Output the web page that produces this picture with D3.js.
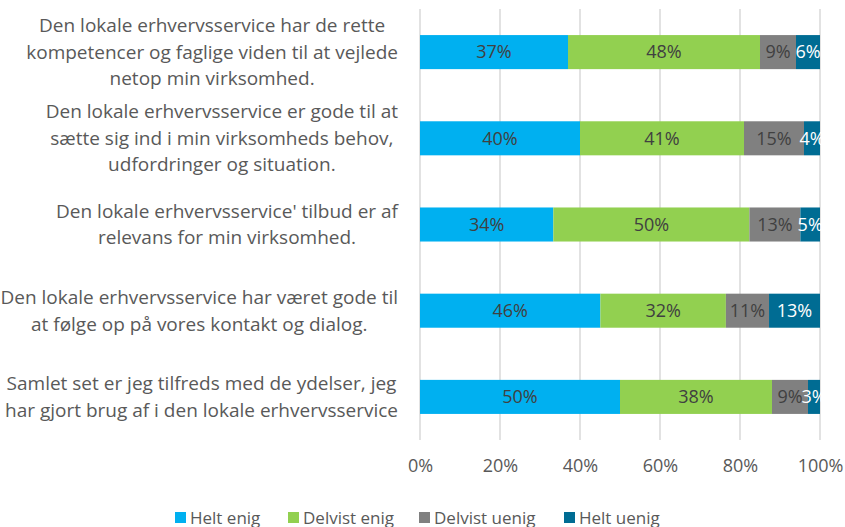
<!DOCTYPE html>
<html>
<head>
<meta charset="utf-8">
<script src="https://cdn.jsdelivr.net/npm/d3@7"></script>
<style>
  body { margin: 0; background: #fff; }
  text { font-family: "Open Sans", sans-serif; }
</style>
</head>
<body>
<svg id="chart" width="845" height="527"></svg>
<script>
// categories (top to bottom), each wrapped like the original
var categories = [
  ["Den lokale erhvervsservice har de rette", "kompetencer og faglige viden til at vejlede", "netop min virksomhed."],
  ["Den lokale erhvervsservice er gode til at", "sætte sig ind i min virksomheds behov,", "udfordringer og situation."],
  ["Den lokale erhvervsservice' tilbud er af", "relevans for min virksomhed."],
  ["Den lokale erhvervsservice har været gode til", "at følge op på vores kontakt og dialog."],
  ["Samlet set er jeg tilfreds med de ydelser, jeg", "har gjort brug af i den lokale erhvervsservice"]
];

var seriesNames = ["Helt enig", "Delvist enig", "Delvist uenig", "Helt uenig"];
var seriesColors = ["#00b0f0", "#92d050", "#808080", "#006c93"];
var labelColors = ["#404040", "#404040", "#404040", "#ffffff"];

// percentages per category, same order as seriesNames
var heltEnig     = [37, 40, 34, 46, 50];
var delvistEnig  = [48, 41, 50, 32, 38];
var delvistUenig = [9, 15, 13, 11, 9];
var heltUenig    = [6, 4, 5, 13, 3];

var tickValues = [0, 0.2, 0.4, 0.6, 0.8, 1];

var rows = categories.map(function(c, i) {
  return {
    idx: i,
    "Helt enig": heltEnig[i],
    "Delvist enig": delvistEnig[i],
    "Delvist uenig": delvistUenig[i],
    "Helt uenig": heltUenig[i]
  };
});

var svg = d3.select("#chart");
var plotL = 420, plotR = 820, plotT = 9, plotB = 440;

var x = d3.scaleLinear().domain([0, 1]).range([plotL, plotR]);
var y = d3.scaleBand().domain(d3.range(categories.length)).range([plotT, plotB]).paddingInner(0.605).paddingOuter(0.3025);
var color = d3.scaleOrdinal().domain(seriesNames).range(seriesColors);

// 100% stacked, like the excel chart
var stacked = d3.stack().keys(seriesNames).offset(d3.stackOffsetExpand)(rows);

// gridlines
svg.append("g")
  .selectAll("line")
  .data(tickValues)
  .enter()
  .append("line")
  .attr("x1", d => x(d)).attr("x2", d => x(d))
  .attr("y1", plotT).attr("y2", plotB)
  .attr("stroke", "#d9d9d9")
  .attr("stroke-width", 1.5);

// x axis labels
var xAxis = d3.axisBottom(x).tickValues(tickValues).tickFormat(d3.format(".0%")).tickSize(0).tickPadding(19);
var ax = svg.append("g").attr("transform", "translate(0," + plotB + ")").call(xAxis);
ax.select(".domain").remove();
ax.selectAll("text")
  .attr("fill", "#595959")
  .style("font-size", "18px")
  .style("font-family", "'Open Sans', sans-serif");

// bars
var layers = svg.append("g")
  .selectAll("g")
  .data(stacked)
  .enter()
  .append("g")
  .attr("fill", d => color(d.key));

layers.selectAll("rect")
  .data(d => d)
  .enter()
  .append("rect")
  .attr("x", d => x(d[0]))
  .attr("width", d => x(d[1]) - x(d[0]))
  .attr("y", d => y(d.data.idx))
  .attr("height", y.bandwidth());

// bar labels
stacked.forEach(function(s, si) {
  svg.append("g")
    .selectAll("text")
    .data(s)
    .enter()
    .append("text")
    .attr("x", d => (x(d[0]) + x(d[1])) / 2)
    .attr("y", d => y(d.data.idx) + y.bandwidth() / 2)
    .attr("dy", "0.35em")
    .attr("text-anchor", "middle")
    .attr("fill", labelColors[si])
    .style("font-size", "18px")
    .text(d => d.data[s.key] + "%");
});

// category labels: lines centred within block, block right aligned
var lineH = 26.5;
categories.forEach(function(lines, i) {
  var g = svg.append("g");
  var cy = y(i) + y.bandwidth() / 2;
  var t = g.selectAll("text")
    .data(lines)
    .enter()
    .append("text")
    .attr("text-anchor", "middle")
    .attr("fill", "#595959")
    .style("font-size", "19px")
    .attr("y", (d, j) => cy + (j - (lines.length - 1) / 2) * lineH)
    .attr("dy", "0.35em")
    .text(d => d);
  var w = d3.max(t.nodes(), n => n.getComputedTextLength());
  t.attr("x", 398 - w / 2);
});

// legend
var legendX = [175, 288, 419, 564];
var legend = svg.append("g")
  .selectAll("g")
  .data(seriesNames)
  .enter()
  .append("g")
  .attr("transform", (d, i) => "translate(" + legendX[i] + ",512)");

legend.append("rect")
  .attr("width", 11).attr("height", 11)
  .attr("fill", d => color(d));

legend.append("text")
  .attr("x", 15)
  .attr("y", 6)
  .attr("dy", "0.35em")
  .attr("fill", "#595959")
  .style("font-size", "17px")
  .text(d => d);
</script>
</body>
</html>
